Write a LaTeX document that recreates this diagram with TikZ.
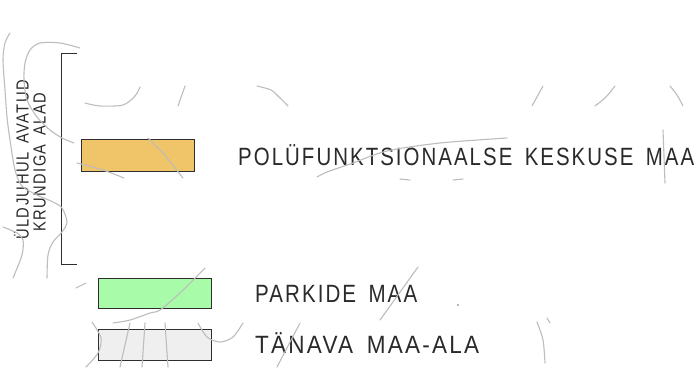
\documentclass[tikz,border=0pt]{standalone}
\usepackage{fontspec}
\setmainfont{Liberation Sans}
\newfontfamily\cadfont[LetterSpace=10,WordSpace=1.6]{Liberation Sans}
\usepackage{graphicx}
\definecolor{inkc}{HTML}{2A2A2A}
\definecolor{edgec}{HTML}{2E2E2E}
\definecolor{sketchc}{HTML}{BDBDBD}
\definecolor{keskus}{HTML}{F0C468}
\definecolor{park}{HTML}{A8FBA8}
\definecolor{tanav}{HTML}{EFEFEF}
\newcommand{\fitlabel}[2]{\resizebox{#1}{\height}{#2}}
\begin{document}
\begin{tikzpicture}[x=1pt,y=-1pt,
  swatch/.style={draw=edgec,line width=1.1pt,minimum width=113pt,anchor=north west,inner sep=0pt},
  legendtext/.style={anchor=base west,inner sep=0pt,text=inkc,font=\cadfont\fontsize{25}{25}\selectfont},
  sidetext/.style={anchor=base west,inner sep=0pt,text=inkc,rotate=90,font=\cadfont\fontsize{17.5}{18}\selectfont},
  sketch/.style={draw=sketchc,line width=1.1pt,line cap=round}]
\useasboundingbox (0,0) rectangle (699,368);
\fill[white] (0,0) rectangle (699,368);

% legend swatches
\node[swatch,fill=keskus,minimum height=32pt] (keskus) at (81,139) {};
\node[swatch,fill=park,minimum height=30pt] (park) at (98,278) {};
\node[swatch,fill=tanav,minimum height=31pt] (tanav) at (98,329) {};

% legend labels
\node[legendtext] (lkeskus) at (238,165) {\fitlabel{456pt}{POLÜFUNKTSIONAALSE KESKUSE MAA}};
\node[legendtext] (lpark) at (255,302) {\fitlabel{162pt}{PARKIDE MAA}};
\node[legendtext] (ltanav) at (255,353) {\fitlabel{224pt}{TÄNAVA MAA-ALA}};

% bracket with its vertical caption
\coordinate (btop) at (77,53);
\coordinate (bbot) at (77,264);
\draw[edgec,line width=1pt] (btop) -- (61,53) -- (61,264) -- (bbot);
\node[sidetext] (side1) at (28.5,240) {\fitlabel{160pt}{ÜLDJUHUL AVATUD}};
\node[sidetext] (side2) at (45.5,232) {\fitlabel{139pt}{KRUNDIGA ALAD}};

% faint base-map strokes
\draw[sketch] plot[smooth] coordinates {(10,33) (5,43) (3,60) (5,90) (7,117) (10,140) (15,170) (22,186) (37,195) (53,202) (62,208) (67,222) (62,232) (53,242) (48,255) (47,278)};
\draw[sketch] plot[smooth] coordinates {(80,48) (60,43) (40,43) (30,50) (25,63) (24,80) (27,100) (37,117) (50,130) (62,138) (74,143)};
\draw[sketch] plot[smooth] coordinates {(3,227) (17,233) (23,240) (22,255) (13,278)};
\draw[sketch] (76,288) -- (86,283);
\draw[sketch] plot[smooth] coordinates {(85,103) (100,106) (123,105) (135,96) (140,87)};
\draw[sketch] (178,106) -- (185,86);
\draw[sketch] plot[smooth] coordinates {(257,86) (271,90) (279,97) (288,106)};
\draw[sketch] (532,106) -- (543,86);
\draw[sketch] plot[smooth] coordinates {(595,106) (606,97) (615,86)};
\draw[sketch] plot[smooth] coordinates {(670,86) (677,95) (683,106)};
\draw[sketch] plot[smooth] coordinates {(77,163) (103,170) (124,178)};
\draw[sketch] plot[smooth] coordinates {(148,138) (163,153) (175,168) (183,178)};
\draw[sketch] plot[smooth] coordinates {(317,177) (327,172) (353,163) (387,151) (440,143) (507,138)};
\draw[sketch] (400,179) -- (410,180);
\draw[sketch] (453,180) -- (463,179);
\draw[sketch] (663,130) -- (665,183);
\draw[sketch] plot[smooth] coordinates {(205,268) (180,293) (160,310) (150,313) (130,320) (113,323)};
\draw[sketch] (418,267) -- (380,320);
\draw[sketch] (130,323) -- (120,367);
\draw[sketch] (145,323) -- (142,367);
\draw[sketch] (165,323) -- (168,367);
\draw[sketch] plot[smooth] coordinates {(92,322) (101,338) (98,353) (86,367)};
\draw[sketch] plot[smooth] coordinates {(198,323) (207,337) (220,342) (233,337) (243,323)};
\draw[sketch] (300,323) -- (277,367);
\draw[sketch] plot[smooth] coordinates {(537,322) (543,340) (545,363)};
\draw[sketch] (547,318) -- (550,323);
\fill[sketchc!60!black] (458,305) circle (0.8pt);
\end{tikzpicture}
\end{document}
